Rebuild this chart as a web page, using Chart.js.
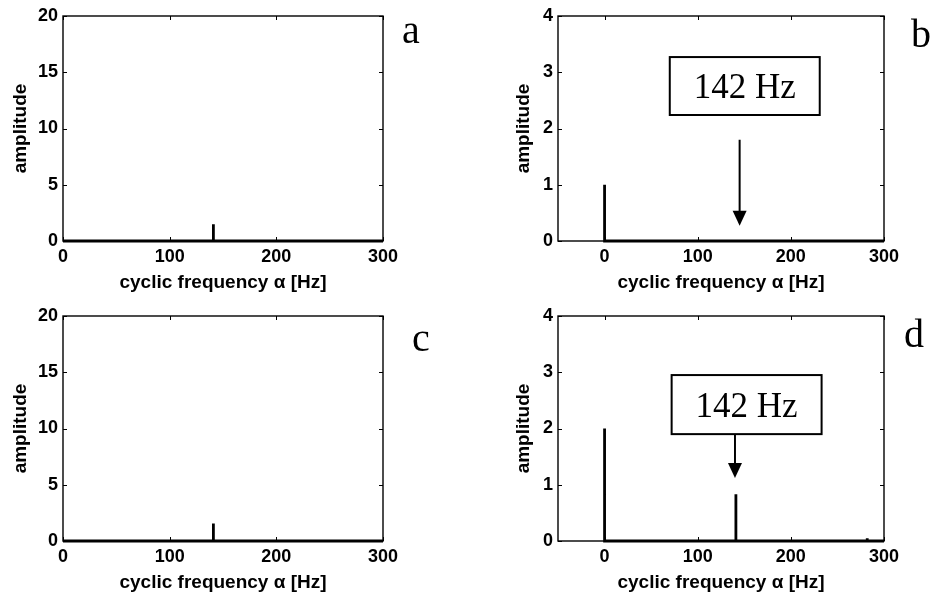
<!DOCTYPE html>
<html>
<head>
<meta charset="utf-8">
<script src="https://cdn.jsdelivr.net/npm/chart.js@4.4.1/dist/chart.umd.min.js"></script>
<style>
  body { margin: 0; background: #fff; width: 933px; height: 599px; position: relative; overflow: hidden; }
  .panel { position: absolute; width: 466px; height: 300px; }
  .letter { position: absolute; font-family: "Liberation Serif", "Times New Roman", serif; font-size: 40px; line-height: 40px; color: #000; }
</style>
</head>
<body>
<div class="panel" style="left:0;top:0"><canvas id="chartA" width="466" height="300"></canvas></div>
<div class="panel" style="left:467px;top:0"><canvas id="chartB" width="466" height="300"></canvas></div>
<div class="panel" style="left:0;top:300px"><canvas id="chartC" width="466" height="300"></canvas></div>
<div class="panel" style="left:467px;top:300px"><canvas id="chartD" width="466" height="300"></canvas></div>
<div class="letter" style="left:402px;top:10px">a</div>
<div class="letter" style="left:911px;top:14px">b</div>
<div class="letter" style="left:412px;top:318px">c</div>
<div class="letter" style="left:904px;top:314px">d</div>
<script>
// spectra (cyclic frequency in Hz, amplitude)
const freqA = [0, 141, 141, 141, 300];
const ampA = [0, 0, 1.5, 0, 0];
const freqB = [0, 0, 0, 300];
const ampB = [0, 1.0, 0, 0];
const freqC = [0, 141, 141, 141, 300];
const ampC = [0, 0, 1.55, 0, 0];
const freqD = [0, 0, 0, 141, 141, 141, 282, 282, 282, 300];
const ampD = [0, 2.0, 0, 0, 0.83, 0, 0, 0.05, 0, 0];

// tick labels
const xTicks = [0, 100, 200, 300];
const yTicksLeft = [0, 5, 10, 15, 20];
const yTicksRight = [0, 1, 2, 3, 4];

const annotText = '142 Hz';

const tickFont = { family: '"Liberation Sans", Arial, sans-serif', size: 18, weight: 'bold' };
const titleFont = { family: '"Liberation Sans", Arial, sans-serif', size: 19, weight: 'bold' };

// frame + inward ticks like the matlab axes, plus the optional box/arrow note
const framePlugin = {
  id: 'frame',
  beforeDatasetsDraw(chart) {
    const ctx = chart.ctx;
    const a = chart.chartArea;
    const xs = chart.scales.x, ys = chart.scales.y;
    ctx.save();
    ctx.strokeStyle = '#000';
    ctx.lineWidth = 1.4;
    ctx.strokeRect(a.left, a.top, a.right - a.left, a.bottom - a.top);
    ctx.lineWidth = 1;
    ctx.beginPath();
    xs.ticks.forEach(t => {
      const px = Math.round(xs.getPixelForValue(t.value)) + 0.5;
      ctx.moveTo(px, a.bottom); ctx.lineTo(px, a.bottom - 4);
      ctx.moveTo(px, a.top); ctx.lineTo(px, a.top + 4);
    });
    ys.ticks.forEach(t => {
      const py = Math.round(ys.getPixelForValue(t.value)) + 0.5;
      ctx.moveTo(a.left, py); ctx.lineTo(a.left + 4, py);
      ctx.moveTo(a.right, py); ctx.lineTo(a.right - 4, py);
    });
    ctx.stroke();
    ctx.restore();
  },
  afterDraw(chart, args, opts) {
    const note = opts.note;
    if (!note) return;
    const ctx = chart.ctx;
    const xs = chart.scales.x, ys = chart.scales.y;
    const l = xs.getPixelForValue(note.x0), r = xs.getPixelForValue(note.x1);
    const t = ys.getPixelForValue(note.y1), b = ys.getPixelForValue(note.y0);
    ctx.save();
    ctx.fillStyle = '#fff';
    ctx.fillRect(l, t, r - l, b - t);
    ctx.strokeStyle = '#000';
    ctx.lineWidth = 2;
    ctx.strokeRect(l, t, r - l, b - t);
    ctx.fillStyle = '#000';
    ctx.font = '35px "Liberation Serif", "Times New Roman", serif';
    ctx.textAlign = 'center';
    ctx.textBaseline = 'alphabetic';
    ctx.fillText(annotText, (l + r) / 2, (t + b) / 2 + 12);
    // arrow
    const ax = xs.getPixelForValue(note.ax);
    const ay0 = ys.getPixelForValue(note.ay0), ay1 = ys.getPixelForValue(note.ay1);
    ctx.lineWidth = 2;
    ctx.beginPath();
    ctx.moveTo(ax, ay0);
    ctx.lineTo(ax, ay1 - 12);
    ctx.stroke();
    ctx.beginPath();
    ctx.moveTo(ax - 7, ay1 - 15);
    ctx.lineTo(ax + 7, ay1 - 15);
    ctx.lineTo(ax, ay1);
    ctx.closePath();
    ctx.fill();
    ctx.restore();
  }
};

function makeChart(id, freq, amp, cfg) {
  const ctx = document.getElementById(id).getContext('2d');
  return new Chart(ctx, {
    type: 'scatter',
    data: {
      datasets: [{
        data: freq.map((f, i) => ({ x: f, y: amp[i] })),
        showLine: true,
        borderColor: '#000',
        borderWidth: 2.8,
        pointRadius: 0,
        tension: 0,
        clip: false
      }]
    },
    options: {
      responsive: false,
      animation: false,
      layout: { padding: { left: 0, right: cfg.padRight, top: 16, bottom: 0 } },
      plugins: {
        legend: { display: false },
        tooltip: { enabled: false },
        frame: { note: cfg.note }
      },
      scales: {
        x: {
          type: 'linear',
          min: cfg.xMin,
          max: 300,
          grid: { display: false, drawTicks: false, tickLength: 0 },
          border: { display: false },
          afterBuildTicks: s => { s.ticks = xTicks.map(v => ({ value: v })); },
          afterFit: s => { s.height = 59; },
          ticks: { font: tickFont, color: '#000', padding: 5, maxRotation: 0 },
          title: { display: true, text: 'cyclic frequency α [Hz]', font: titleFont, color: '#000', padding: { top: 0, bottom: 6 } }
        },
        y: {
          type: 'linear',
          min: 0,
          max: cfg.yMax,
          grid: { display: false, drawTicks: false, tickLength: 0 },
          border: { display: false },
          afterBuildTicks: s => { s.ticks = cfg.yTicks.map(v => ({ value: v })); },
          afterFit: s => { s.width = cfg.yWidth; },
          ticks: { font: tickFont, color: '#000', padding: 5 },
          title: { display: true, text: 'amplitude', font: titleFont, color: '#000', padding: { top: cfg.yTitlePad, bottom: 0 } }
        }
      }
    },
    plugins: [framePlugin]
  });
}

makeChart('chartA', freqA, ampA, { xMin: 0, yMax: 20, yTicks: yTicksLeft, yWidth: 63, padRight: 83, yTitlePad: 9 });
makeChart('chartB', freqB, ampB, { xMin: -50, yMax: 4, yTicks: yTicksRight, yWidth: 91, padRight: 49, yTitlePad: 45,
  note: { x0: 70, x1: 231, y0: 2.24, y1: 3.27, ax: 145, ay0: 1.8, ay1: 0.27 } });
makeChart('chartC', freqC, ampC, { xMin: 0, yMax: 20, yTicks: yTicksLeft, yWidth: 63, padRight: 83, yTitlePad: 9 });
makeChart('chartD', freqD, ampD, { xMin: -50, yMax: 4, yTicks: yTicksRight, yWidth: 91, padRight: 49, yTitlePad: 45,
  note: { x0: 72, x1: 233, y0: 1.90, y1: 2.95, ax: 140, ay0: 1.90, ay1: 1.12 } });
</script>
</body>
</html>
